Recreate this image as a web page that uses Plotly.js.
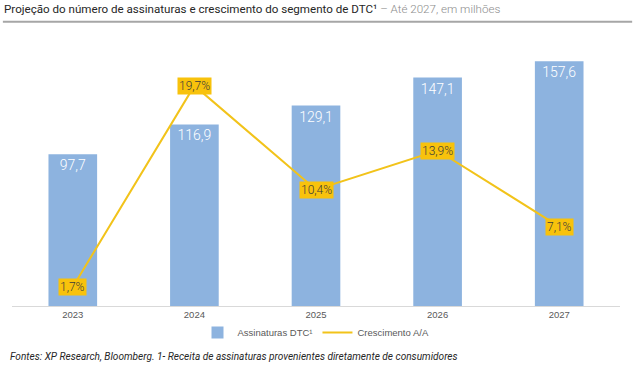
<!DOCTYPE html>
<html>
<head>
<meta charset="utf-8">
<script src="https://cdn.plot.ly/plotly-3.0.1.min.js"></script>
<style>
html,body{margin:0;padding:0;background:#fff;}
#chart{width:639px;height:376px;}
</style>
</head>
<body>
<div id="chart"></div>
<script>
const years = ['2023', '2024', '2025', '2026', '2027'];
const subscriptions = [97.7, 116.9, 129.1, 147.1, 157.6];
const growth = [1.7, 19.7, 10.4, 13.9, 7.1];
const barName = 'Assinaturas DTC¹';
const lineName = 'Crescimento A/A';

const fmt = (v, d) => v.toFixed(d).replace('.', ',');

const barColor = '#8db3df';
const lineColor = '#f2c31a';
const boxColor = '#f8c20c';

const traces = [
  {
    type: 'bar', x: years, y: subscriptions, name: barName,
    marker: {color: barColor},
    text: subscriptions.map(v => fmt(v, 1)),
    textposition: 'inside', insidetextanchor: 'end',
    textfont: {family: 'Roboto', size: 14, color: '#ffffff', weight: 300},
    hoverinfo: 'skip'
  },
  {
    type: 'scatter', mode: 'lines', x: years, y: growth, yaxis: 'y2', name: lineName,
    line: {color: lineColor, width: 2}, hoverinfo: 'skip'
  }
];

const annotations = years.map((yr, i) => ({
  x: i, y: growth[i], xref: 'x', yref: 'y2',
  text: fmt(growth[i], 1) + '%', showarrow: false,
  font: {family: 'Roboto', size: 12, color: '#3a3a3a', weight: 300},
  bgcolor: boxColor, borderpad: 1, xanchor: 'center', yanchor: 'middle'
}));

annotations.push({
  xref: 'paper', yref: 'paper', x: -0.0165, y: 1.125, xanchor: 'left', yanchor: 'middle',
  showarrow: false, align: 'left',
  text: '<span style="color:#262626">Projeção do número de assinaturas e crescimento do segmento de DTC¹</span><span style="color:#8c8c8c; font-weight:300"> – Até 2027, em milhões</span>',
  font: {family: 'Roboto', size: 11.6, color: '#262626'}
});
annotations.push({
  xref: 'paper', yref: 'paper', x: -0.007, y: -0.193, xanchor: 'left', yanchor: 'middle',
  showarrow: false, align: 'left',
  text: '<i>Fontes: XP Research, Bloomberg. 1- Receita de assinaturas provenientes diretamente de consumidores</i>',
  font: {family: 'Roboto', size: 10.1, color: '#262626'}
});

const layout = {
  width: 639, height: 376,
  margin: {l: 12, r: 19, t: 42, b: 70},
  paper_bgcolor: '#ffffff', plot_bgcolor: '#ffffff',
  showlegend: true,
  legend: {orientation: 'h', x: 0.5, xanchor: 'center', y: -0.1, yanchor: 'middle',
           font: {family: 'Liberation Sans, Arial', size: 9.5, color: '#595959'},
           itemwidth: 30},
  bargap: 0.6,
  xaxis: {type: 'category', range: [-0.5, 4.5], showgrid: false, zeroline: false, showline: true,
          linecolor: '#d9d9d9', linewidth: 1, ticks: '',
          tickfont: {family: 'Liberation Sans, Arial', size: 9.5, color: '#595959'}},
  yaxis: {range: [0, 170], showticklabels: false, showgrid: false, zeroline: false},
  yaxis2: {range: [0, 23.6], overlaying: 'y', side: 'right', showticklabels: false, showgrid: false, zeroline: false},
  annotations: annotations,
  shapes: [{type: 'line', xref: 'paper', yref: 'paper', x0: -0.015, x1: 1.02, y0: 1.077, y1: 1.077,
            line: {color: '#a6a6a6', width: 2}}]
};

Plotly.newPlot('chart', traces, layout, {displayModeBar: false});
</script>
</body>
</html>
